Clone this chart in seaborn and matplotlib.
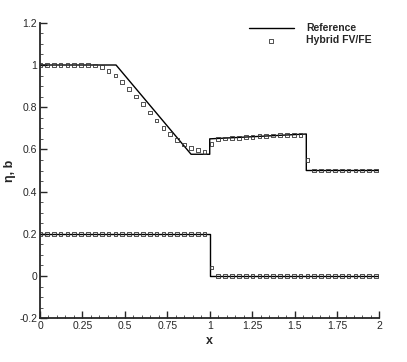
import numpy as np
import pandas as pd
import matplotlib
matplotlib.use("Agg")
import matplotlib.pyplot as plt
from matplotlib.ticker import MultipleLocator, FuncFormatter
import seaborn as sns

# Reference solution (free surface eta and bathymetry b)
ref_eta_x = [0.0, 0.448, 0.89, 1.0, 1.0, 1.569, 1.569, 2.0]
ref_eta_y = [1.0, 1.0, 0.577, 0.577, 0.650, 0.673, 0.5, 0.5]
ref_b_x = [0.0, 1.0, 1.0, 2.0]
ref_b_y = [0.2, 0.2, 0.0, 0.0]

# Hybrid FV/FE numerical solution
num_x = [0.0, 0.0404, 0.0808, 0.1212, 0.1616, 0.202, 0.2424, 0.2828, 0.3232, 0.3636,
         0.404, 0.4444, 0.4848, 0.5252, 0.5656, 0.606, 0.6464, 0.6868, 0.7272, 0.7676,
         0.808, 0.8484, 0.8888, 0.9292, 0.9696, 1.01, 1.0504, 1.0908, 1.1312, 1.1716,
         1.212, 1.2524, 1.2928, 1.3332, 1.3736, 1.414, 1.4544, 1.4948, 1.5352, 1.5756,
         1.616, 1.6564, 1.6968, 1.7372, 1.7776, 1.818, 1.8584, 1.8988, 1.9392, 1.9796]
num_eta = [1.0, 1.0, 1.0, 1.0, 1.0, 1.0, 1.0, 1.0, 0.998, 0.992,
           0.973, 0.950, 0.919, 0.886, 0.850, 0.814, 0.775, 0.737, 0.701, 0.674,
           0.646, 0.624, 0.607, 0.596, 0.589, 0.627, 0.650, 0.652, 0.654, 0.655,
           0.659, 0.660, 0.663, 0.665, 0.666, 0.668, 0.669, 0.669, 0.669, 0.550,
           0.500, 0.500, 0.500, 0.500, 0.500, 0.500, 0.500, 0.500, 0.500, 0.500]
num_b = [0.2] * 25 + [0.04] + [0.0] * 24

x_ticks = [0, 0.25, 0.5, 0.75, 1, 1.25, 1.5, 1.75, 2]
y_ticks = [-0.2, 0, 0.2, 0.4, 0.6, 0.8, 1.0, 1.2]

sns.set_style("ticks")
plt.rcParams['font.family'] = ['Liberation Sans', 'DejaVu Sans']

fig = plt.figure(figsize=(4.07, 3.62), dpi=100)
ax = fig.add_axes([0.0983, 0.121, 0.834, 0.816])

df_eta = pd.DataFrame({"x": ref_eta_x, "y": ref_eta_y})
df_b = pd.DataFrame({"x": ref_b_x, "y": ref_b_y})
sns.lineplot(data=df_eta, x="x", y="y", sort=False, estimator=None, color="black",
             linewidth=1.0, ax=ax, label="Reference")
sns.lineplot(data=df_b, x="x", y="y", sort=False, estimator=None, color="black",
             linewidth=1.0, ax=ax)

df_num = pd.DataFrame({"x": num_x + num_x, "y": num_eta + num_b})
sns.scatterplot(data=df_num, x="x", y="y", marker="s", s=7, facecolor="none",
                edgecolor="#333333", linewidth=0.6, ax=ax, label="Hybrid FV/FE",
                zorder=3)

ax.set_xlim(0, 2)
ax.set_ylim(-0.2, 1.2)
ax.set_xticks(x_ticks)
ax.set_yticks(y_ticks)
fmt = FuncFormatter(lambda v, p: "%g" % round(v, 4))
ax.xaxis.set_major_formatter(fmt)
ax.yaxis.set_major_formatter(fmt)
ax.xaxis.set_minor_locator(MultipleLocator(0.05))
ax.yaxis.set_minor_locator(MultipleLocator(0.05))
ax.tick_params(which="both", direction="in", top=False, right=False, labelsize=7.5,
               width=1.0, pad=2)
ax.tick_params(which="major", length=5)
ax.tick_params(which="minor", length=2.5, width=0.7, color="#555555")
for s in ["top", "right"]:
    ax.spines[s].set_visible(False)
for s in ["left", "bottom"]:
    ax.spines[s].set_linewidth(1.3)

ax.set_xlabel("x", fontsize=9, fontweight="bold", labelpad=3)
ax.set_ylabel("η, b", fontsize=9, fontweight="bold", labelpad=2)

leg = ax.legend(loc="upper right", bbox_to_anchor=(1.005, 1.03), frameon=False,
                prop={"size": 7.5, "weight": "bold"}, handlelength=4.3,
                handletextpad=1.2, labelspacing=0.2)

fig.savefig("out.png", dpi=100)
